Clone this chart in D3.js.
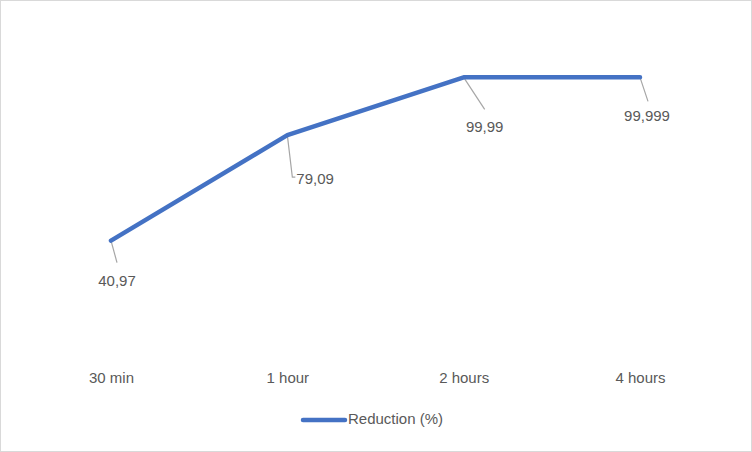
<!DOCTYPE html>
<html>
<head>
<meta charset="utf-8">
<script src="https://cdn.jsdelivr.net/npm/d3@7"></script>
<style>
  body { margin: 0; background: #fff; }
  svg { font-family: "Liberation Sans", "DejaVu Sans", sans-serif; }
</style>
</head>
<body>
<svg id="chart" width="752" height="452"></svg>
<script>
const categories = ["30 min", "1 hour", "2 hours", "4 hours"];
const reduction = [40.97, 79.09, 99.99, 99.999];
const valueLabels = ["40,97", "79,09", "99,99", "99,999"];
const seriesName = "Reduction (%)";

// callout placement per point (dx, dy of label; leader end)
const callouts = [
  { dx: 6, dy: 41, lx: 6, ly: 22, anchor: "middle" },
  { dx: 9, dy: 45, lx: 5, ly: 42, anchor: "start" },
  { dx: 21, dy: 51, lx: 21, ly: 32, anchor: "middle" },
  { dx: 7, dy: 40, lx: 8, ly: 24, anchor: "middle" }
];

const svg = d3.select("#chart");
const width = 752, height = 452;

svg.append("rect")
    .attr("x", 0.5).attr("y", 0.5)
    .attr("width", width - 1).attr("height", height - 1)
    .attr("fill", "#fff").attr("stroke", "#d9d9d9");

const x = d3.scalePoint().domain(categories).range([111, 640]);
const y = d3.scaleLinear().domain([0, 120]).range([354, 22]);

const xAxis = svg.append("g")
    .attr("transform", "translate(0,372)")
    .call(d3.axisBottom(x).tickSize(0).tickPadding(0));
xAxis.select(".domain").remove();
xAxis.selectAll("text")
    .attr("font-size", 15).attr("fill", "#595959")
    .attr("dy", "0.7em");

const data = categories.map((c, i) => ({ c, v: reduction[i], label: valueLabels[i], co: callouts[i] }));

const line = d3.line().x(d => x(d.c)).y(d => y(d.v));

// leader lines
data.forEach(d => {
    const px = x(d.c), py = y(d.v);
    const pts = d.co.anchor === "start"
        ? [[px, py], [px + d.co.lx, py + d.co.ly], [px + d.co.dx - 1, py + d.co.ly]]
        : [[px, py], [px + d.co.lx, py + d.co.ly]];
    svg.append("path")
        .attr("d", d3.line()(pts))
        .attr("fill", "none").attr("stroke", "#a6a6a6").attr("stroke-width", 1.2);
});

svg.append("path")
    .datum(data)
    .attr("d", line)
    .attr("fill", "none")
    .attr("stroke", "#4472c4")
    .attr("stroke-width", 4.5)
    .attr("stroke-linejoin", "round")
    .attr("stroke-linecap", "round");

svg.selectAll(".vlabel")
    .data(data)
    .join("text")
    .attr("class", "vlabel")
    .attr("x", d => x(d.c) + d.co.dx)
    .attr("y", d => y(d.v) + d.co.dy)
    .attr("text-anchor", d => d.co.anchor)
    .attr("dominant-baseline", "middle")
    .attr("font-size", 15).attr("fill", "#595959")
    .text(d => d.label);

// legend
const lg = svg.append("g").attr("transform", "translate(303,420)");
lg.append("line").attr("x1", 0).attr("x2", 42).attr("y1", 0).attr("y2", 0)
    .attr("stroke", "#4472c4").attr("stroke-width", 4.5).attr("stroke-linecap", "round");
lg.append("text").attr("x", 45).attr("y", 0).attr("dominant-baseline", "middle")
    .attr("font-size", 15).attr("fill", "#595959").text(seriesName);
</script>
</body>
</html>
